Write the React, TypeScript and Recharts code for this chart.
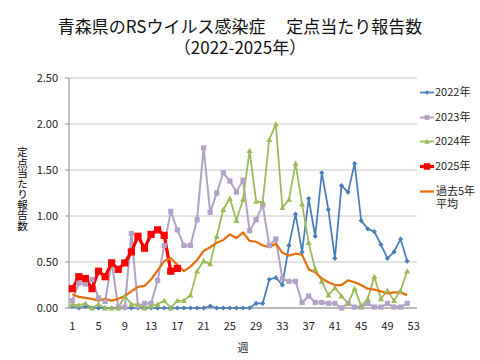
import { LineChart, Line, XAxis, YAxis, CartesianGrid, Label } from 'recharts'

const weeks = Array.from({ length: 53 }, (_, i) => i + 1)

const y2022 = [
  0.02, 0, 0.02, 0, 0, 0, 0, 0, 0, 0, 0, 0, 0, 0, 0, 0, 0, 0, 0, 0, 0, 0.02, 0, 0, 0, 0, 0, 0,
  0.05, 0.05, 0.31, 0.33, 0.25, 0.68, 1.02, 0.61, 1.19, 0.78, 1.47, 1.07, 0.54, 1.33, 1.26, 1.57,
  0.95, 0.86, 0.83, 0.69, 0.54, 0.61, 0.75, 0.51, null,
]
const y2023 = [
  0.08, 0.27, 0.26, 0.31, 0.11, 0.07, 0.5, 0.01, 0.01, 0.81, 0.02, 0.05, 0.05, 0.3, 0.68, 1.05,
  0.85, 0.68, 0.68, 0.96, 1.74, 1.04, 1.25, 1.47, 1.38, 1.26, 1.39, 0.84, 0.96, 1.12, 0.68, 0.75,
  0.32, 0.29, 0.29, 0.06, 0.13, 0.06, 0.06, 0.05, 0.05, 0, 0.05, 0.01, 0.01, 0.05, 0.01, 0.01,
  0.05, 0.01, 0.01, 0.05, null,
]
const y2024 = [
  0.04, 0.03, 0.05, 0, 0.04, 0, 0, 0, 0.13, 0.04, 0.04, 0, 0.02, 0.04, 0.08, 0, 0.08, 0.08, 0.14,
  0.4, 0.51, 0.48, 0.78, 1.07, 1.19, 0.95, 1.18, 1.71, 1.16, 1.15, 1.83, 2.0, 1.09, 1.18, 1.57,
  1.13, 0.71, 0.42, 0.29, 0.14, 0.22, 0.13, 0.05, 0.21, 0.02, 0.1, 0.34, 0.1, 0.19, 0.08, 0.19,
  0.4, null,
]
const y2025 = [
  0.21, 0.34, 0.32, 0.21, 0.4, 0.34, 0.49, 0.42, 0.49, 0.61, 0.78, 0.65, 0.8, 0.85, 0.79, 0.4, 0.43,
]
const avg5 = [
  0.15, 0.12, 0.11, 0.1, 0.08, 0.1, 0.08, 0.1, 0.13, 0.18, 0.23, 0.24, 0.31, 0.41, 0.51, 0.54,
  0.47, 0.4, 0.45, 0.52, 0.62, 0.66, 0.71, 0.74, 0.8, 0.76, 0.82, 0.73, 0.72, 0.68, 0.66, 0.7,
  0.6, 0.57, 0.59, 0.58, 0.42, 0.39, 0.32, 0.28, 0.25, 0.25, 0.3, 0.28, 0.25, 0.21, 0.2, 0.18,
  0.16, 0.17, 0.17, 0.14, null,
]

const yTicks = [0, 0.5, 1, 1.5, 2, 2.5]
const xTicks = [1, 5, 9, 13, 17, 21, 25, 29, 33, 37, 41, 45, 49, 53]

const data = weeks.map((w, i) => ({
  week: w,
  y2022: y2022[i] ?? null,
  y2023: y2023[i] ?? null,
  y2024: y2024[i] ?? null,
  y2025: y2025[i] ?? null,
  avg5: avg5[i] ?? null,
}))

type Shape = 'diamond' | 'square' | 'triangle' | 'none'

const series: { key: string; name: string; color: string; width: number; shape: Shape; size: number }[] = [
  { key: 'y2022', name: '2022年', color: '#4a7ebb', width: 1.75, shape: 'diamond', size: 2.6 },
  { key: 'y2023', name: '2023年', color: '#b3a2c7', width: 2, shape: 'square', size: 2.6 },
  { key: 'y2024', name: '2024年', color: '#9bbb59', width: 1.75, shape: 'triangle', size: 3 },
  { key: 'y2025', name: '2025年', color: '#ff0000', width: 3.25, shape: 'square', size: 3.6 },
  { key: 'avg5', name: '過去5年\n平均', color: '#e8700e', width: 2.25, shape: 'none', size: 0 },
]

function markerPath(shape: Shape, cx: number, cy: number, r: number) {
  if (shape === 'diamond') return `M${cx},${cy - r}L${cx + r},${cy}L${cx},${cy + r}L${cx - r},${cy}Z`
  if (shape === 'triangle') return `M${cx},${cy - r}L${cx + r},${cy + r * 0.8}L${cx - r},${cy + r * 0.8}Z`
  return `M${cx - r},${cy - r}H${cx + r}V${cy + r}H${cx - r}Z`
}

const makeDot = (shape: Shape, color: string, r: number) => (props: any) => {
  const { cx, cy, index } = props
  if (cx == null || cy == null || props.value == null) return <g key={index} />
  return <path key={index} d={markerPath(shape, cx, cy, r)} fill={color} />
}

const font = '"Noto Sans CJK JP", "Noto Sans", sans-serif'

export default function App() {
  return (
    <div style={{ position: 'absolute', left: 0, top: 0, width: 480, height: 360, background: '#fff', fontFamily: font }}>
      <div style={{ position: 'absolute', left: 0, width: 480, top: 15, textAlign: 'center', fontSize: 17, lineHeight: '21px', whiteSpace: 'pre', color: '#111' }}>
        {'青森県のRSウイルス感染症　 定点当たり報告数\n（2022-2025年）'}
      </div>
      <div style={{ position: 'absolute', left: 16, top: 147, writingMode: 'vertical-rl', fontSize: 10.5, lineHeight: '12px', color: '#000' }}>
        定点当たり報告数
      </div>

      <LineChart width={480} height={360} data={data} margin={{ top: 78, right: 63, bottom: 8, left: 0 }}>
        <CartesianGrid vertical={false} stroke="#c6c6c6" />
        <XAxis
          dataKey="week"
          type="category"
          scale="band"
          ticks={xTicks}
          interval={0}
          height={44}
          tickLine={false}
          tickMargin={8}
          stroke="#8c8c8c"
          tick={{ fontSize: 11, fill: '#222', fontFamily: font }}
        >
          <Label value="週" position="insideBottom" offset={0} style={{ fontSize: 11, fill: '#222', fontFamily: font }} />
        </XAxis>
        <YAxis
          domain={[0, 2.5]}
          ticks={yTicks}
          width={69}
          tickSize={4}
          tickMargin={7}
          stroke="#8c8c8c"
          tickFormatter={(v: number) => v.toFixed(2)}
          tick={{ fontSize: 11, fill: '#222', fontFamily: font }}
        />
        {series.map((s) => (
          <Line
            key={s.key}
            dataKey={s.key}
            name={s.name}
            stroke={s.color}
            strokeWidth={s.width}
            dot={s.shape === 'none' ? false : makeDot(s.shape, s.color, s.size)}
            activeDot={false}
            isAnimationActive={false}
            connectNulls={false}
            strokeLinejoin="round"
          />
        ))}
      </LineChart>

      {series.map((s, i) => {
        const top = 86 + i * 24.7
        return (
          <div key={s.key} style={{ position: 'absolute', left: 420, top: top, width: 60, height: 24 }}>
            <svg width={15} height={14} style={{ position: 'absolute', left: 0, top: 0 }}>
              <line x1={0} x2={14} y1={6.5} y2={6.5} stroke={s.color} strokeWidth={s.width} />
              {s.shape !== 'none' && <path d={markerPath(s.shape, 7, 6.5, s.size * 0.9)} fill={s.color} />}
            </svg>
            <div style={{ position: 'absolute', left: s.shape === 'none' ? 16 : 15, top: -1, fontSize: 11, lineHeight: '13px', whiteSpace: 'pre', color: '#222' }}>
              {s.name}
            </div>
          </div>
        )
      })}
    </div>
  )
}
